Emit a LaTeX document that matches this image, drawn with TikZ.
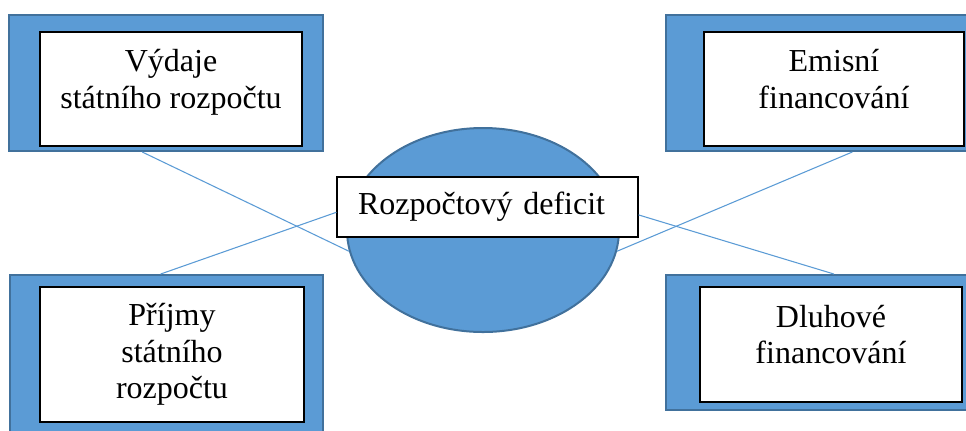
\documentclass[tikz,border=0pt]{standalone}
\usepackage{fontspec}
\setmainfont{Liberation Serif}
\usepackage{tikz}
\usetikzlibrary{shapes.geometric}
\definecolor{OffBlue}{HTML}{5B9BD5}
\definecolor{OffBlueDark}{HTML}{41719C}

\begin{document}
\begin{tikzpicture}[x=0.75pt, y=-0.75pt,
    shell/.style={rectangle, fill=OffBlue, draw=OffBlueDark, line width=1.5pt, inner sep=0pt},
    card/.style={rectangle, fill=white, draw=black, line width=0.9pt, align=center,
                 font=\fontsize{24}{27.5}\selectfont},
    twoline/.style={text depth=15pt},
    link/.style={draw=OffBlue, line width=0.8pt}]
    \useasboundingbox (0,0) rectangle (966,430);

    % --- Left side: state budget ---
    \node[shell, minimum width=235.5pt, minimum height=102pt] (vyd-bg) at (166,83) {};
    \node[card, twoline, minimum width=196.5pt, minimum height=85.5pt] (vyd) at (171,89)
        {Výdaje\\ státního rozpočtu};
    \node[shell, minimum width=234.75pt, minimum height=123.75pt] (prj-bg) at (166.5,357.5) {};
    \node[card, minimum width=198pt, minimum height=101.25pt] (prj) at (172,354.5)
        {Příjmy\\ státního\\ rozpočtu};

    % --- Right side: financing ---
    \node[shell, minimum width=235.5pt, minimum height=102pt] (emi-bg) at (823,83) {};
    \node[card, twoline, minimum width=195pt, minimum height=85.5pt] (emi) at (834,89)
        {Emisní\\ financování};
    \node[shell, minimum width=235.5pt, minimum height=101.25pt] (dlu-bg) at (823,342.5) {};
    \node[card, twoline, minimum width=196.5pt, minimum height=86.25pt] (dlu) at (831,344.5)
        {Dluhové\\ financování};

    % --- Centre: deficit ---
    \node[ellipse, fill=OffBlue, draw=OffBlueDark, line width=1.5pt,
          minimum width=204pt, minimum height=153pt] (def) at (483,230) {};
    \node[card, align=left, inner xsep=15.75pt, text width=194.25pt, minimum height=45pt]
        (def-lbl) at (487.5,207) {Rozpočtový deficit};

    % --- Crossing links ---
    \draw[link] (vyd-bg.251) -- (def.189);
    \draw[link] (prj-bg.94.5) -- (def-lbl.182);
    \draw[link] (emi-bg.293) -- (def.351);
    \draw[link] (def-lbl.357) -- (dlu-bg.81.6);
\end{tikzpicture}
\end{document}
